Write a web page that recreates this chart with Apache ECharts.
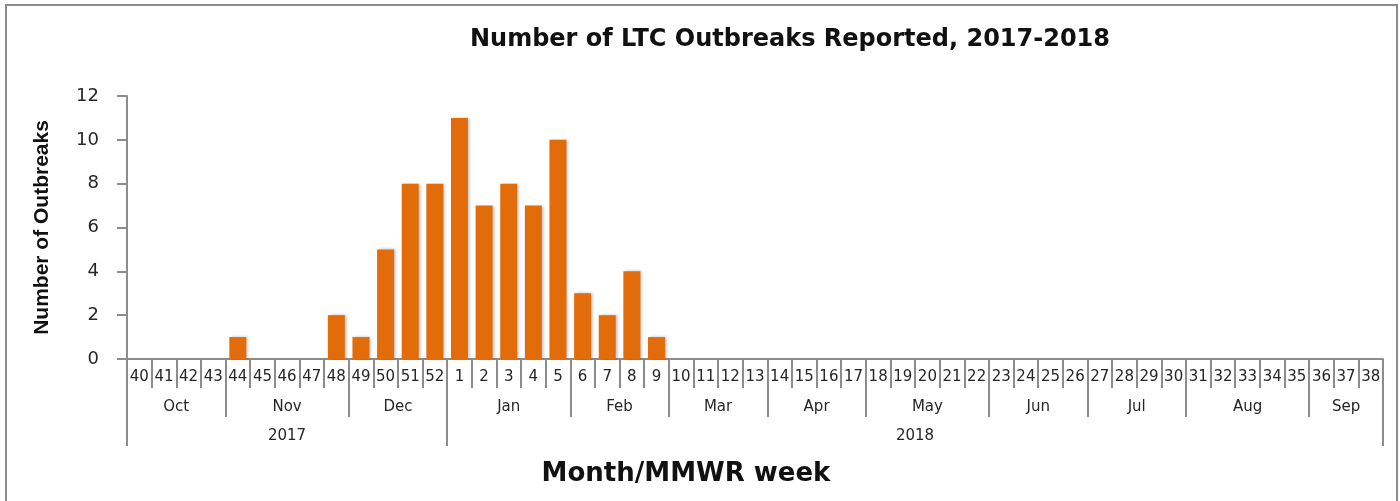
<!DOCTYPE html>
<html>
<head>
<meta charset="utf-8">
<title>LTC Outbreaks</title>
<script src="https://cdn.jsdelivr.net/npm/echarts@6/dist/echarts.min.js"></script>
<style>
  html, body { margin: 0; padding: 0; background: #fff; }
  #chart { width: 1400px; height: 501px; }
</style>
</head>
<body>
<div id="chart"></div>
<script>
  // MMWR weeks, 2017 week 40 .. 2018 week 38
  var weeks = ['40', '41', '42', '43', '44', '45', '46', '47', '48', '49', '50', '51', '52',
    '1', '2', '3', '4', '5', '6', '7', '8', '9', '10', '11', '12', '13', '14', '15', '16', '17',
    '18', '19', '20', '21', '22', '23', '24', '25', '26', '27', '28', '29', '30', '31', '32',
    '33', '34', '35', '36', '37', '38'];
  var outbreaks = [0, 0, 0, 0, 1, 0, 0, 0, 2, 1, 5, 8, 8,
    11, 7, 8, 7, 10, 3, 2, 4, 1, 0, 0, 0, 0, 0, 0, 0, 0,
    0, 0, 0, 0, 0, 0, 0, 0, 0, 0, 0, 0, 0, 0, 0,
    0, 0, 0, 0, 0, 0];
  var months = ['Oct', 'Nov', 'Dec', 'Jan', 'Feb', 'Mar', 'Apr', 'May', 'Jun', 'Jul', 'Aug', 'Sep'];
  var monthWeeks = [4, 5, 4, 5, 4, 4, 4, 5, 4, 4, 5, 3];
  var years = ['2017', '2018'];
  var yearWeeks = [13, 38];

  // group boundaries / centres on a 0..weeks.length scale
  function groups(names, counts) {
    var edges = [0], centers = [], pos = 0;
    counts.forEach(function (c) {
      centers.push(pos + c / 2);
      pos += c;
      edges.push(pos);
    });
    return {
      edges: edges,
      centers: centers,
      label: function (v) {
        var i = centers.indexOf(v);
        return i >= 0 ? names[i] : '';
      }
    };
  }
  var monthG = groups(months, monthWeeks);
  var yearG = groups(years, yearWeeks);

  var axisGray = '#8c8c8c';
  var textFont = '"DejaVu Sans", sans-serif';

  function groupAxis(g, offset) {
    return {
      type: 'value',
      position: 'bottom',
      offset: offset,
      min: 0,
      max: weeks.length,
      axisLine: { show: false },
      splitLine: { show: false },
      axisTick: {
        show: true,
        customValues: g.edges,
        length: 29,
        lineStyle: { color: axisGray, width: 2 }
      },
      axisLabel: {
        customValues: g.centers,
        formatter: g.label,
        margin: 12,
        fontSize: 15,
        color: '#262626',
        fontFamily: textFont
      }
    };
  }

  var myChart = echarts.init(document.getElementById('chart'));

  var option = {
    backgroundColor: '#fff',
    animation: false,
    title: [
      {
        text: 'Number of LTC Outbreaks Reported, 2017-2018',
        left: 785,
        top: 23,
        textAlign: 'center',
        textStyle: { fontSize: 24, fontWeight: 'bold', color: '#111', fontFamily: textFont }
      },
      {
        text: 'Month/MMWR week',
        left: 681,
        top: 456,
        textAlign: 'center',
        textStyle: { fontSize: 26, fontWeight: 'bold', color: '#111', fontFamily: textFont }
      }
    ],
    graphic: [{
      type: 'rect',
      shape: { x: 6, y: 5, width: 1391, height: 520 },
      style: { fill: 'none', stroke: '#8c8c8c', lineWidth: 2 },
      silent: true
    }],
    grid: { left: 127, right: 17, top: 96, bottom: 142, containLabel: false },
    xAxis: [
      {
        type: 'category',
        data: weeks,
        position: 'bottom',
        boundaryGap: true,
        axisLine: { show: true, lineStyle: { color: axisGray, width: 2 } },
        axisTick: {
          show: true,
          interval: 0,
          alignWithLabel: false,
          length: 29,
          lineStyle: { color: axisGray, width: 2 }
        },
        axisLabel: { interval: 0, margin: 11, fontSize: 15, color: '#262626', fontFamily: textFont }
      },
      groupAxis(monthG, 29),
      groupAxis(yearG, 58)
    ],
    yAxis: {
      type: 'value',
      min: 0,
      max: 12,
      interval: 2,
      name: 'Number of Outbreaks',
      nameLocation: 'middle',
      nameRotate: 90,
      nameGap: 74,
      nameTextStyle: {
        fontSize: 21,
        fontWeight: 'bold',
        color: '#111',
        fontFamily: '"Liberation Sans Narrow", "Liberation Sans", sans-serif'
      },
      axisLine: { show: true, lineStyle: { color: axisGray, width: 2 } },
      axisTick: { show: true, length: 10, lineStyle: { color: axisGray, width: 2 } },
      splitLine: { show: false },
      axisLabel: { margin: 28, fontSize: 18, color: '#262626', fontFamily: textFont }
    },
    series: [{
      name: 'Outbreaks',
      type: 'bar',
      xAxisIndex: 0,
      data: outbreaks,
      barCategoryGap: '31%',
      itemStyle: {
        color: '#E36C0A',
        shadowColor: 'rgba(0,0,0,0.25)',
        shadowBlur: 3,
        shadowOffsetX: 2
      }
    }]
  };

  myChart.setOption(option);
</script>
</body>
</html>
